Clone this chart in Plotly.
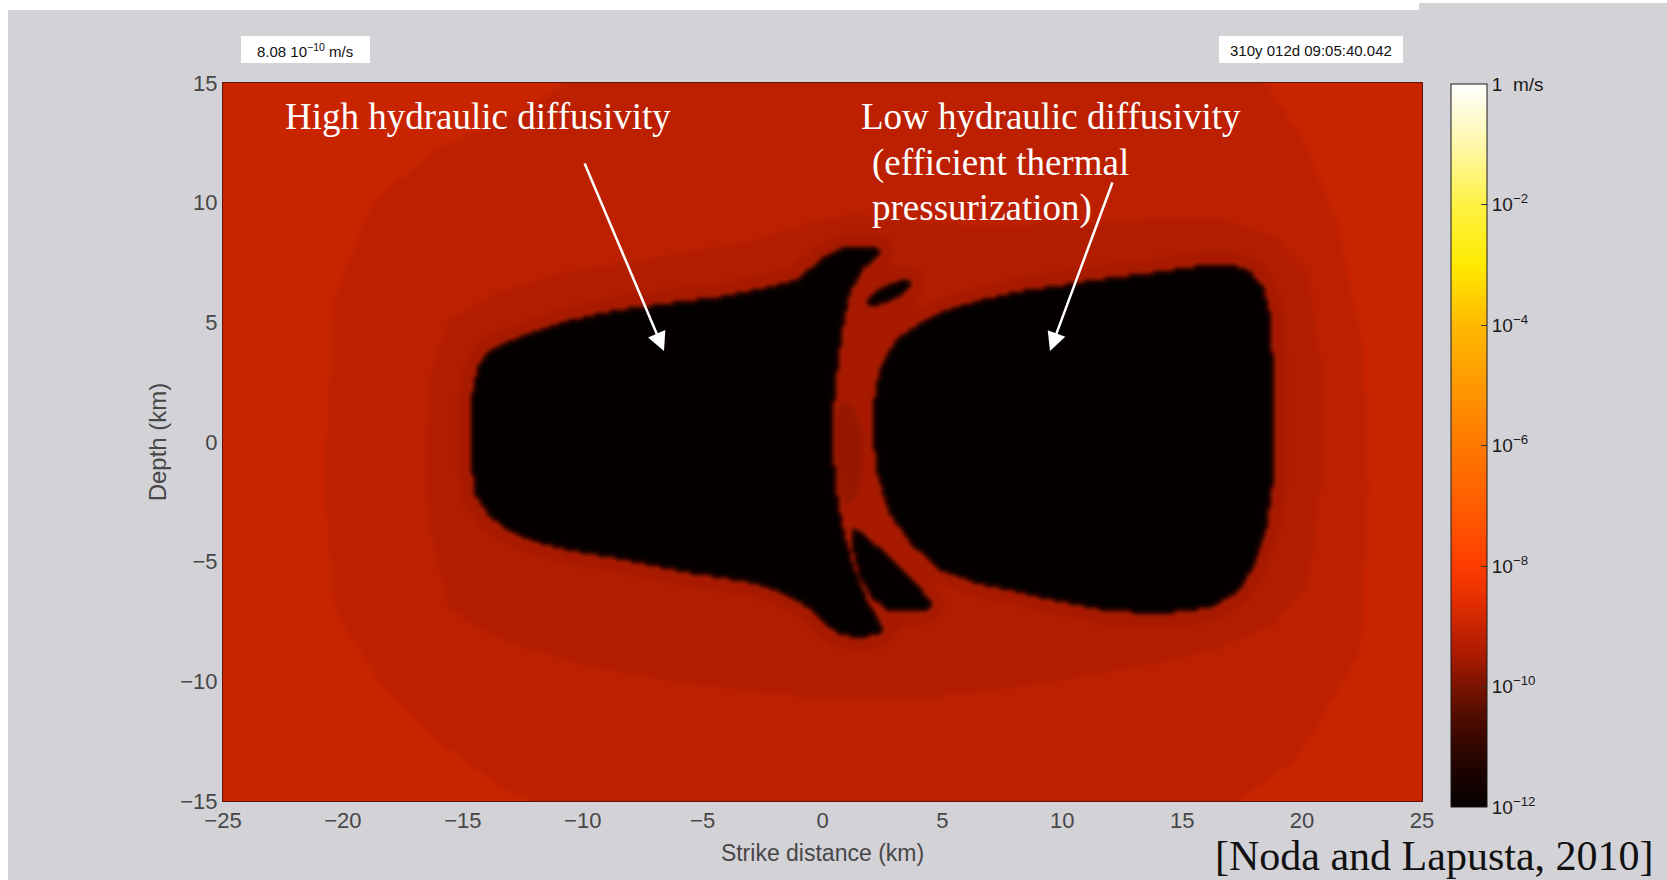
import numpy as np
import plotly.graph_objects as go

# ---------------------------------------------------------------
# Slip-rate snapshot on the fault plane (strike distance / depth, km)
# Region outlines, traced in km.
# ---------------------------------------------------------------
LEFT_PATCH_X = [-14.64, -14.37, -14.02, -13.32, -12.21, -10.54, -8.46, -6.37, -4.29, -2.20,
                -1.09, -0.40, 0.30, 1.00, 1.80, 2.25, 2.45, 2.05, 1.69, 1.13,
                0.86, 0.58, 0.37, 0.37, 0.58, 0.86, 1.27, 1.83, 2.20, 2.52,
                2.30, 1.97, 1.30, 0.72, 0.16, -0.54, -1.50, -2.90, -5.68, -8.46,
                -10.54, -12.21, -13.32, -14.02, -14.50, -14.66]
LEFT_PATCH_Y = [1.75, 3.14, 3.70, 4.11, 4.53, 5.09, 5.51, 5.79, 6.06, 6.48,
                6.76, 7.32, 7.88, 8.15, 8.18, 8.10, 7.95, 7.65, 7.32, 6.34,
                5.23, 3.14, 1.05, -0.35, -2.44, -3.83, -5.23, -6.62, -7.30, -7.87,
                -8.02, -8.06, -8.08, -8.01, -7.59, -6.90, -6.34, -5.85, -5.40, -4.85,
                -4.50, -4.05, -3.55, -2.86, -2.16, -0.20]

RIGHT_PATCH_X = [2.10, 2.20, 2.39, 2.75, 3.22, 4.30, 5.30, 6.50, 8.00, 10.00,
                 12.00, 13.60, 15.80, 17.00, 17.80, 18.30, 18.60, 18.75, 18.70, 18.45,
                 17.95, 17.30, 16.20, 15.00, 13.50, 11.80, 10.00, 8.00, 6.40, 4.89,
                 3.77, 2.80, 2.25]
RIGHT_PATCH_Y = [0.90, 2.00, 3.00, 3.80, 4.39, 5.10, 5.55, 5.90, 6.25, 6.55,
                 6.85, 7.05, 7.35, 7.40, 7.10, 6.50, 5.30, 2.60, -1.80, -3.60,
                 -5.10, -6.20, -6.85, -7.05, -7.10, -7.00, -6.65, -6.20, -5.85, -5.30,
                 -4.30, -3.00, -1.18]

UPPER_ISLAND_X = [3.64, 3.28, 2.61, 2.02, 1.86, 2.22, 2.89, 3.48]
UPPER_ISLAND_Y = [6.70, 6.76, 6.52, 6.12, 5.80, 5.74, 5.98, 6.38]

LOWER_ISLAND_X = [1.27, 1.70, 2.50, 3.30, 4.10, 4.50, 4.30, 3.60, 2.70, 2.10, 1.55, 1.30, 1.20]
LOWER_ISLAND_Y = [-3.62, -3.90, -4.60, -5.40, -6.20, -6.75, -7.00, -7.05, -7.00, -6.50, -5.60, -4.60, -3.90]

ARC_X = [0.2, 2.6, 4.2, 3.0, 2.3, 2.3, 3.2, 4.8, 3.0, 0.5, 0.1, 0.0, 0.2]
ARC_Y = [7.9, 7.9, 5.6, 3.8, 1.5, -1.5, -3.6, -6.2, -8.1, -8.1, -3.0, 0.0, 4.0]

ARC_CORE_X = [0.55, 1.10, 1.55, 1.65, 1.45, 1.00, 0.60, 0.48]
ARC_CORE_Y = [1.50, 1.70, 0.90, -0.80, -2.30, -2.70, -2.00, 0.00]

HALO_B_X = [-16.5, -16.3, -15.6, -13.5, -10.8, -6.0, -2.8, -0.5, 1.3, 4.0,
            6.8, 10.0, 13.0, 16.3, 18.8, 20.2, 20.8, 20.8, 20.5, 20.2,
            18.8, 16.3, 13.0, 10.0, 6.0, 2.0, -2.0, -6.0, -9.5, -12.4,
            -14.3, -15.6, -16.3, -16.5]
HALO_B_Y = [0.0, 3.0, 5.1, 6.3, 7.1, 7.9, 8.45, 9.2, 9.5, 9.2,
            9.0, 9.1, 9.3, 9.4, 8.6, 7.1, 3.0, -1.0, -4.0, -5.9,
            -7.6, -8.7, -9.4, -9.9, -10.5, -10.8, -10.5, -10.0, -9.4, -8.6,
            -7.8, -6.9, -4.0, -2.0]

HALO_A_X = [-20.7, -20.4, -18.8, -16.2, -12.4, -10.0, 18.0, 20.0, 21.5, 22.5, 22.7,
            22.4, 20.5, 19.6, 17.2, 16.0, -11.0, -13.5, -16.0, -18.5, -20.4, -20.7]
HALO_A_Y = [0.0, 6.0, 10.0, 12.2, 13.9, 15.5, 15.5, 12.7, 9.0, 4.0, -2.0,
            -8.7, -12.0, -13.3, -15.0, -15.5, -15.5, -14.3, -12.5, -10.0, -6.9, -3.0]

# log10 of slip rate (m/s) in each region
LOG_V_BACKGROUND = -9.0
LOG_V_HALO_A = -9.2
LOG_V_HALO_B = -9.35
LOG_V_HALO_C = -9.5
LOG_V_ARC_CORE = -9.7
LOG_V_LOCKED = -12.0

# colour map: log10 slip rate -> colour
CMAP_LOGV = [-12, -11.5, -11, -10.5, -10, -9.5, -9, -8.5, -8, -7, -6, -5, -4, -3, -2, -1, 0]
CMAP_COLORS = ["#050000", "#1a0200", "#320600", "#500c00", "#781300", "#a81a00", "#c92400",
               "#e83000", "#ff3d00", "#ff5c00", "#ff7900", "#ff9800", "#ffb900", "#ffea00",
               "#fff245", "#fff8aa", "#ffffff"]

X_TICKS = [-25, -20, -15, -10, -5, 0, 5, 10, 15, 20, 25]
Y_TICKS = [-15, -10, -5, 0, 5, 10, 15]
CB_TICKS = [0, -2, -4, -6, -8, -10, -12]
CB_LABELS = ["1  m/s", "10<sup>−2</sup>", "10<sup>−4</sup>", "10<sup>−6</sup>",
             "10<sup>−8</sup>", "10<sup>−10</sup>", "10<sup>−12</sup>"]

# ---------------------------------------------------------------
# grid and rasterisation of the outlines
# ---------------------------------------------------------------
CELL = 0.125
xc = np.arange(-25 + CELL / 2, 25, CELL)
yc = np.arange(-15 + CELL / 2, 15, CELL)
XX, YY = np.meshgrid(xc, yc)


def inside(px, py):
    px = np.asarray(px, float)
    py = np.asarray(py, float)
    res = np.zeros(XX.shape, bool)
    n = len(px)
    for i in range(n):
        x1, y1 = px[i], py[i]
        x2, y2 = px[(i + 1) % n], py[(i + 1) % n]
        if y1 == y2:
            continue
        cross = ((y1 > YY) != (y2 > YY)) & (XX < (x2 - x1) * (YY - y1) / (y2 - y1) + x1)
        res ^= cross
    return res


def grow(mask, r):
    h, w = mask.shape
    pad = np.pad(mask, r)
    out = mask.copy()
    for di in range(-r, r + 1):
        for dj in range(-r, r + 1):
            if di * di + dj * dj <= r * r:
                out |= pad[r + di:r + di + h, r + dj:r + dj + w]
    return out


def soften(z):
    # light [1, 2, 1] smoothing so region edges fade over about one cell
    p = np.pad(z, 1, mode="edge")
    z = (p[:-2, 1:-1] + 2 * p[1:-1, 1:-1] + p[2:, 1:-1]) / 4
    p = np.pad(z, 1, mode="edge")
    return (p[1:-1, :-2] + 2 * p[1:-1, 1:-1] + p[1:-1, 2:]) / 4


locked = (inside(LEFT_PATCH_X, LEFT_PATCH_Y) | inside(RIGHT_PATCH_X, RIGHT_PATCH_Y)
          | inside(UPPER_ISLAND_X, UPPER_ISLAND_Y) | inside(LOWER_ISLAND_X, LOWER_ISLAND_Y))

Z = np.full(XX.shape, LOG_V_BACKGROUND)
Z[inside(HALO_A_X, HALO_A_Y)] = LOG_V_HALO_A
Z[inside(HALO_B_X, HALO_B_Y)] = LOG_V_HALO_B
Z[grow(locked, 5) | inside(ARC_X, ARC_Y)] = LOG_V_HALO_C
Z[inside(ARC_CORE_X, ARC_CORE_Y)] = LOG_V_ARC_CORE
Z[locked] = LOG_V_LOCKED
Z = np.round(soften(Z), 3)

colorscale = [[(v + 12) / 12, c] for v, c in zip(CMAP_LOGV, CMAP_COLORS)]

# ---------------------------------------------------------------
# page geometry (pixels)
# ---------------------------------------------------------------
W, H = 1667, 880
PL, PR, PT, PB = 223, 1422, 83, 801
CB_X0, CB_THICK, CB_TOP, CB_LEN = 1451, 36, 84, 723


def fx(xp):
    return (xp - PL) / (PR - PL)


def fy(yp):
    return (PB - yp) / (PB - PT)


BG = "#d3d2d7"
SANS = "Liberation Sans Narrow, Arial Narrow, Liberation Sans, Arial, sans-serif"
SERIF = "Liberation Serif, Times New Roman, serif"

fig = go.Figure()
fig.add_trace(go.Heatmap(
    x=xc, y=yc, z=Z, zmin=-12, zmax=0, zsmooth="best",
    colorscale=colorscale,
    colorbar=dict(
        thickness=CB_THICK, thicknessmode="pixels",
        len=CB_LEN, lenmode="pixels",
        xref="paper", x=fx(CB_X0), xanchor="left", xpad=0,
        yref="paper", y=fy(CB_TOP), yanchor="top", ypad=0,
        outlinewidth=1, outlinecolor="#1a1a1a",
        tickvals=CB_TICKS, ticktext=CB_LABELS,
        ticks="inside", ticklen=6, tickcolor="#333333", tickwidth=1,
        tickfont=dict(family="Liberation Sans, Arial, sans-serif", size=19, color="#1a1a1a"),
    ),
    hoverinfo="skip",
))

axis_font = dict(family=SANS, size=22, color="#474747")
fig.update_xaxes(range=[-25, 25], tickvals=X_TICKS, ticks="", showgrid=False, zeroline=False,
                 showline=True, mirror=True, linecolor="#5e160c", linewidth=1,
                 tickfont=axis_font,
                 title=dict(text="Strike distance (km)", font=dict(family=SANS, size=23, color="#474747"),
                            standoff=12))
fig.update_yaxes(range=[-15, 15], tickvals=Y_TICKS, ticks="", showgrid=False, zeroline=False,
                 showline=True, mirror=True, linecolor="#5e160c", linewidth=1,
                 tickfont=axis_font,
                 title=dict(text="Depth (km)", font=dict(family=SANS, size=24, color="#474747"),
                            standoff=6))

shapes = [
    # white frame strips of the screenshot
    dict(type="rect", xref="paper", yref="paper", x0=fx(0), x1=fx(1419), y0=fy(10), y1=fy(0),
         fillcolor="white", line_width=0, layer="below"),
    dict(type="rect", xref="paper", yref="paper", x0=fx(1419), x1=fx(W), y0=fy(3), y1=fy(0),
         fillcolor="white", line_width=0, layer="below"),
    dict(type="rect", xref="paper", yref="paper", x0=fx(0), x1=fx(8), y0=fy(H), y1=fy(0),
         fillcolor="white", line_width=0, layer="below"),
    # info boxes
    dict(type="rect", xref="paper", yref="paper", x0=fx(241), x1=fx(370), y0=fy(63), y1=fy(36),
         fillcolor="white", line_width=0),
    dict(type="rect", xref="paper", yref="paper", x0=fx(1219), x1=fx(1403), y0=fy(63), y1=fy(36),
         fillcolor="white", line_width=0),
]

# tick marks on the left edge of the colour bar, matching the inside ticks on the right
for v in CB_TICKS[1:-1]:
    yp = CB_TOP + (-v) / 12 * CB_LEN
    shapes.append(dict(type="line", xref="paper", yref="paper",
                       x0=fx(CB_X0), x1=fx(CB_X0 + 6), y0=fy(yp), y1=fy(yp),
                       line=dict(color="#333333", width=1)))

ann = []


def text(xp, yp, s, size, family, color, xanchor="center"):
    ann.append(dict(x=fx(xp), y=fy(yp), xref="paper", yref="paper", text=s, showarrow=False,
                    xanchor=xanchor, yanchor="middle",
                    font=dict(family=family, size=size, color=color)))


text(305, 50, "8.08 10<sup>−10</sup> m/s", 15, "Liberation Sans, Arial, sans-serif", "#111111")
text(1311, 50, "310y 012d 09:05:40.042", 15, "Liberation Sans, Arial, sans-serif", "#111111")

text(478, 117, "High hydraulic diffusivity", 37, SERIF, "white")
text(1051, 117, "Low hydraulic diffusivity", 37, SERIF, "white")
text(870, 163, "(efficient thermal", 37, SERIF, "white", xanchor="left")
text(870, 208, "pressurization)", 37, SERIF, "white", xanchor="left")

text(1434, 856, "[Noda and Lapusta, 2010]", 42, SERIF, "#111111")


def arrow(tail, tip):
    ann.append(dict(x=fx(tip[0]), y=fy(tip[1]), xref="paper", yref="paper",
                    ax=tail[0] - tip[0], ay=tail[1] - tip[1], axref="pixel", ayref="pixel",
                    text="", showarrow=True, arrowhead=2, arrowsize=1.5, arrowwidth=2.5,
                    arrowcolor="white", standoff=0))


arrow((584, 162), (664, 351))
arrow((1113, 181), (1050, 351))

fig.update_layout(
    width=W, height=H,
    margin=dict(l=PL, r=W - PR, t=PT, b=H - PB, pad=0),
    paper_bgcolor=BG, plot_bgcolor=BG,
    shapes=shapes, annotations=ann,
    showlegend=False,
)

fig.write_html("out.html")
